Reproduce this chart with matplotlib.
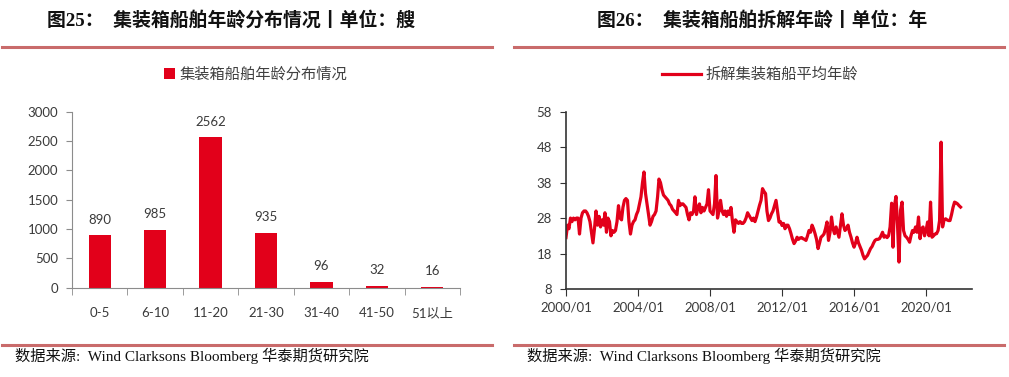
import matplotlib
matplotlib.use("Agg")
import matplotlib.pyplot as plt
import matplotlib.dates as mdates
from matplotlib.lines import Line2D
import pandas as pd
from datetime import datetime

plt.rcParams['font.family'] = ['Lato', 'Noto Sans CJK SC', 'DejaVu Sans']

# ---------------- data ----------------
age_groups = ['0-5', '6-10', '11-20', '21-30', '31-40', '41-50', '51以上']
ship_counts = [890, 985, 2562, 935, 96, 32, 16]
bar_legend = '集装箱船舶年龄分布情况'

scrap_start = '2000-01'
scrap_age = [
    22.5, 26, 25, 28, 27, 28, 27.5, 28, 28, 23.5, 28, 29.5,
    30, 30, 29.5, 28.5, 27, 24, 21, 25, 30, 26, 28.5, 25.5,
    27.5, 26, 29.5, 24, 28, 27, 23, 24.5, 24, 24.5, 27, 31.5,
    28, 27.5, 31, 33, 33.5, 33, 27, 23.5, 26, 27, 27.5, 29,
    30, 32, 34, 38, 41, 35, 32, 29, 26, 27, 28.5, 29,
    30, 34, 39, 38, 36, 34.5, 34, 33.5, 33, 32, 31.5, 30.5,
    30, 29.5, 29, 33, 31.5, 32, 32, 31.5, 31, 29, 27.5, 29.5,
    29, 30, 34, 29, 31, 32, 29.5, 31, 30, 31, 32, 36,
    30, 29.5, 29, 32, 40, 28, 30, 33, 30, 29, 30, 28.5,
    30, 29, 31, 27, 24, 27.5, 27, 26.5, 27, 26.5, 26.5, 27,
    28, 29.5, 28.8, 28, 27.3, 28, 27, 28.3, 30, 31.6, 33, 36.3,
    35.5, 34.9, 30, 27.3, 28, 29.2, 30, 31.5, 33, 30, 26.9, 27,
    25.9, 26.5, 25, 26, 26, 25, 23.6, 22, 20.8, 21.5, 22.6, 22,
    22.4, 22.5, 22.2, 22, 21.7, 23, 24.5, 24, 26, 25, 23.6, 22,
    19.4, 21, 22.6, 23, 23.5, 25, 26.9, 21.7, 24, 28.3, 25, 23.6,
    25.5, 24, 22.6, 26, 29.2, 26, 24.5, 25, 26, 24, 22.6, 21,
    19.8, 21, 22.6, 21, 20, 18.9, 17.5, 16.5, 17, 17.5, 18.5, 19.4,
    20, 21, 21.7, 22, 22, 22.2, 23, 24, 22.6, 23, 22.5, 23,
    25.5, 32.2, 19.8, 31.6, 34.1, 26, 15.6, 30.2, 32.5, 24.5, 23, 22.6,
    22, 21.2, 23, 24.5, 24, 25.5, 24, 28.3, 22.2, 25, 25.5, 23,
    24.5, 26.9, 23, 32.5, 22.6, 23, 23.5, 23.6, 24.5, 27.3, 49.4, 25.5,
    27.5, 27.8, 27.5, 27.3, 27.3, 29, 31, 32.5, 32.3, 32, 31.5, 31.1,
]
scrap_dates = pd.date_range(scrap_start, periods=len(scrap_age), freq='MS')
line_legend = '拆解集装箱船平均年龄'
y_ticks_right = [8, 18, 28, 38, 48, 58]
x_ticks_right = ['2000-01', '2004-01', '2008-01', '2012-01', '2016-01', '2020-01']

title_left = '图25：  集装箱船舶年龄分布情况丨单位：艘'
title_right = '图26：  集装箱船舶拆解年龄丨单位：年'
source_text = '数据来源:  Wind Clarksons Bloomberg 华泰期货研究院'

# ---------------- style ----------------
RED = '#E2001A'
RULE = '#C96B6B'
TICK = '#3a3a3a'
SPINE = '#8c8c8c'
W, H = 1009, 377

fig = plt.figure(figsize=(W / 100, H / 100), dpi=100)

def fx(px):
    return px / W

def fy(py):
    return 1 - py / H

title_font = ['Liberation Serif', 'Noto Sans CJK SC']
src_font = ['Liberation Serif', 'Noto Sans CJK SC']

# titles and rules
fig.text(fx(47), fy(20), title_left, fontsize=13.6, fontweight='bold',
         family=title_font, va='center', ha='left', color='#111111')
fig.text(fx(597), fy(20), title_right, fontsize=13.6, fontweight='bold',
         family=title_font, va='center', ha='left', color='#111111')
for x0, x1 in [(2, 492), (514, 1004)]:
    fig.add_artist(Line2D([fx(x0), fx(x1)], [fy(47), fy(47)], color=RULE, lw=2.2))
    fig.add_artist(Line2D([fx(x0), fx(x1)], [fy(345), fy(345)], color=RULE, lw=2.2))
fig.text(fx(15), fy(356), source_text, fontsize=11, family=src_font,
         va='center', ha='left', color='#111111')
fig.text(fx(527), fy(356), source_text, fontsize=11, family=src_font,
         va='center', ha='left', color='#111111')

# ---------------- left: bars ----------------
ax1 = fig.add_axes([fx(72), fy(287.7), fx(460 - 72), fy(111.7) - fy(287.7)])
xpos = list(range(len(age_groups)))
bars = ax1.bar(xpos, ship_counts, width=0.4, color=RED, label=bar_legend, zorder=2)
for b, v in zip(bars, ship_counts):
    ax1.annotate(str(v), (b.get_x() + b.get_width() / 2, v), xytext=(0, 7),
                 textcoords='offset points', ha='center', va='bottom',
                 fontsize=9.5, color=TICK)
ax1.set_xlim(-0.5, len(age_groups) - 0.5)
ax1.set_ylim(0, 3000)
ax1.set_yticks([0, 500, 1000, 1500, 2000, 2500, 3000])
ax1.set_xticks(xpos)
ax1.set_xticklabels(age_groups)
ax1.set_xticks([i - 0.5 for i in range(len(age_groups) + 1)], minor=True)
ax1.tick_params(axis='x', which='major', length=0, pad=14, labelsize=9.5, labelcolor=TICK)
ax1.tick_params(axis='x', which='minor', length=5, color=SPINE, direction='out')
ax1.tick_params(axis='y', length=4, color=SPINE, labelsize=9.5, labelcolor=TICK, pad=6)
for s in ['top', 'right']:
    ax1.spines[s].set_visible(False)
for s in ['left', 'bottom']:
    ax1.spines[s].set_color(SPINE)
fig.legend(handles=[bars], labels=[bar_legend], loc='center',
           bbox_to_anchor=(fx(256), fy(75)), frameon=False, fontsize=11,
           handlelength=0.7, handleheight=0.7, handletextpad=0.3,
           labelcolor='#404040')

# ---------------- right: line ----------------
ax2 = fig.add_axes([fx(566), fy(289), fx(971.7 - 566), fy(111.7) - fy(289)])
ln, = ax2.plot(scrap_dates, scrap_age, color=RED, lw=2.3, label=line_legend)
ax2.set_ylim(8, 58)
ax2.set_yticks(y_ticks_right)
ax2.set_xlim(datetime(2000, 1, 1), datetime(2022, 7, 15))
ax2.set_xticks([pd.Timestamp(t) for t in x_ticks_right])
ax2.xaxis.set_major_formatter(mdates.DateFormatter('%Y/%m'))
ax2.tick_params(axis='x', length=5, color='#333333', labelsize=9.5, labelcolor=TICK, pad=4)
ax2.tick_params(axis='y', length=4, color='#333333', labelsize=9.5, labelcolor=TICK, pad=6)
for s in ['top', 'right']:
    ax2.spines[s].set_visible(False)
for s in ['left', 'bottom']:
    ax2.spines[s].set_color('#333333')
    ax2.spines[s].set_linewidth(1.2)
fig.legend(handles=[ln], labels=[line_legend], loc='center',
           bbox_to_anchor=(fx(760), fy(75)), frameon=False, fontsize=11,
           handlelength=2.6, handletextpad=0.3, labelcolor='#404040')

fig.savefig('out.png', dpi=100)
